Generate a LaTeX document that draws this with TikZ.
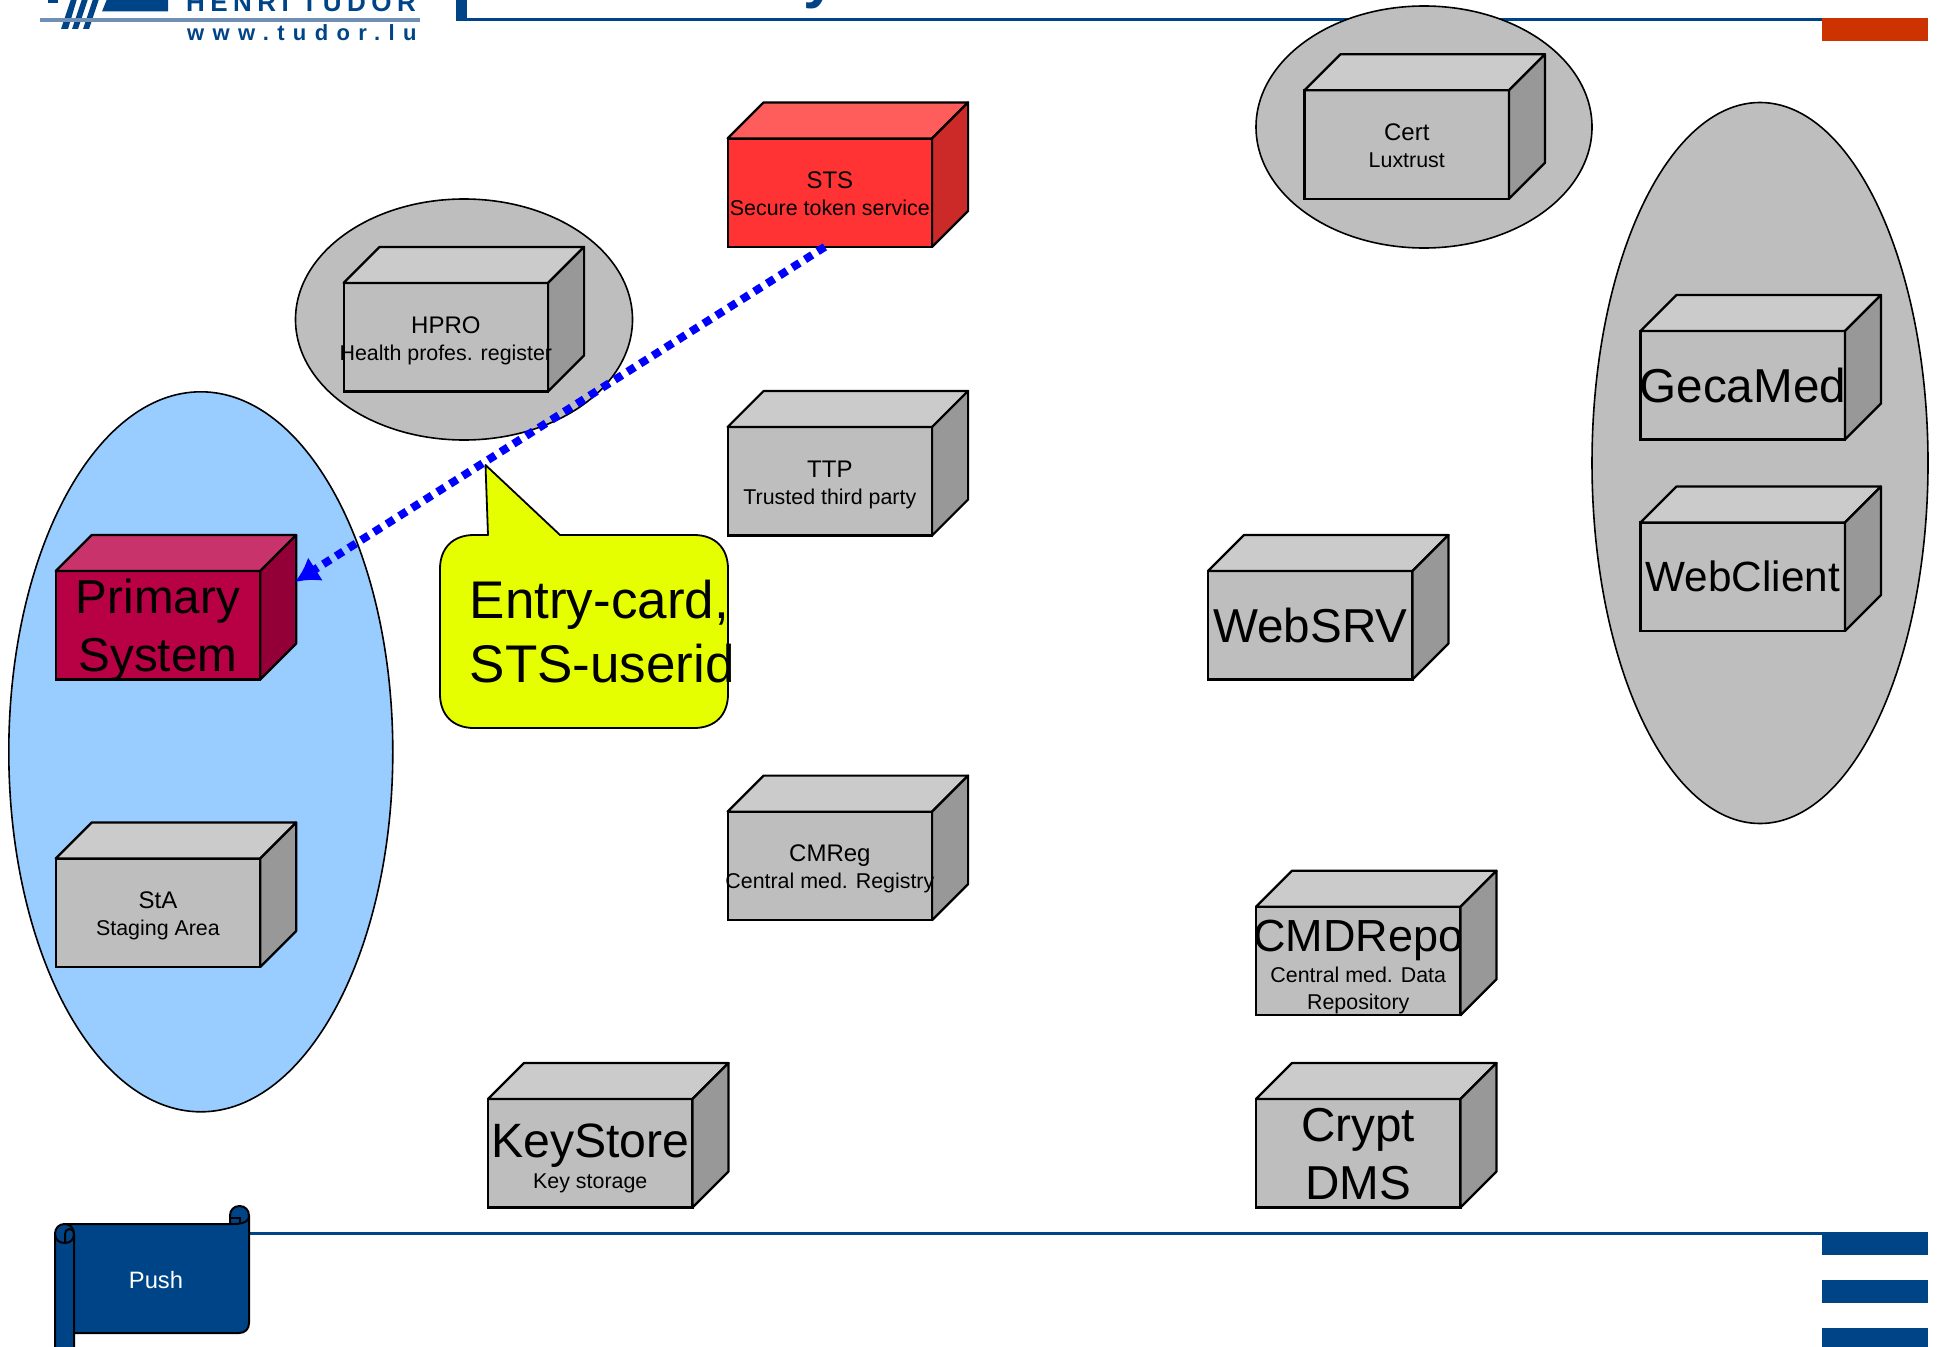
\documentclass[tikz,border=0pt]{standalone}
\usepackage{fontspec}
\setmainfont{Liberation Sans}
\usetikzlibrary{shapes.geometric,arrows.meta,calc}
\definecolor{tudorblue}{HTML}{004488}
\definecolor{tudorred}{HTML}{CC3300}
\definecolor{grayfront}{HTML}{BEBEBE}
\definecolor{graytop}{HTML}{CBCBCB}
\definecolor{grayside}{HTML}{989898}
\definecolor{redfront}{HTML}{FF3333}
\definecolor{redtop}{HTML}{FF5C5C}
\definecolor{redside}{HTML}{CC2929}
\definecolor{primfront}{HTML}{B80045}
\definecolor{primtop}{HTML}{C8336B}
\definecolor{primside}{HTML}{930037}
\definecolor{skyfill}{HTML}{99CCFF}
\definecolor{lemon}{HTML}{E6FF00}
\definecolor{logoline}{HTML}{6F8FB5}
\newcommand{\fs}[1]{\fontsize{#1}{#1}\selectfont}
% one text row: font size, strut height, strut depth, text
\newcommand{\rowtext}[4]{\fontsize{#1}{#1}\selectfont\rule[-#3pt]{0pt}{\dimexpr #2pt+#3pt\relax}#4}
\newcommand{\rowmid}[1]{\rowtext{24}{26}{7}{#1}}
\newcommand{\rowsmall}[1]{\rowtext{21.4}{19}{7}{#1}}
\newcommand{\rowsmallb}[1]{\rowtext{21.4}{19}{8}{#1}}
\newcommand{\rowbig}[1]{\rowtext{47.6}{46}{11}{#1}}
% name, left x, top y, colour prefix, text
\newcommand{\cubebox}[5]{%
  \node[cubeface,fill=#4front,anchor=north west] (#1) at (#2,#3) {};
  \draw[cubeedge,fill=#4top] (#1.north west) -- ++(36,-36) -- ++(204.5,0) -- ++(-36,36) -- cycle;
  \draw[cubeedge,fill=#4side] (#1.north east) -- ++(36,-36) -- ++(0,108.5) -- ++(-36,36) -- cycle;
  \node[cubetext] (#1text) at (#1.center) {#5};
}
\tikzset{
  x=1pt,y=-1pt,
  cubeface/.style={draw=black,line width=2.2pt,minimum width=204.5pt,minimum height=108.5pt,inner sep=0pt,outer sep=0pt,rectangle},
  cubeedge/.style={draw=black,line width=2.2pt,line join=round},
  cubetext/.style={align=center,inner sep=0pt,text=black},
  halo/.style={ellipse,draw=black,line width=1.6pt,fill=#1,inner sep=0pt,outer sep=0pt},
  halo/.default=grayfront,
  bandblue/.style={fill=tudorblue,draw=none},
  scrolledge/.style={draw=black,line width=2pt,fill=tudorblue,line join=round},
  linkdots/.style={draw=blue,line width=8pt,dash pattern=on 8.5pt off 6.5pt,-{Latex[length=24pt,width=28pt]}},
}
\begin{document}
\begin{tikzpicture}
\useasboundingbox (0,0) rectangle (1937,1346);
\clip (0,0) rectangle (1937,1346);
\fill[white] (0,0) rectangle (1937,1346);

% logo
\fill[tudorblue] (48,-1) rectangle (58,3);
\fill[tudorblue] (71,-1) -- (77,-1) -- (68,29) -- (61,29) -- cycle;
\fill[tudorblue] (82,-1) -- (88,-1) -- (78,29) -- (72,29) -- cycle;
\fill[tudorblue] (93,-1) -- (99,-1) -- (89,29) -- (83,29) -- cycle;
\fill[tudorblue] (107,-1) -- (168,-1) -- (168,11.5) -- (102,11.5) -- cycle;
\fill[logoline] (40,18.5) rectangle (420,22);
\node[anchor=base west,inner sep=0pt,text=tudorblue] (logoname) at (186,12)
  {\fs{26}\addfontfeature{LetterSpace=21}\bfseries HENRI TUDOR};
\node[anchor=base west,inner sep=0pt,text=tudorblue] (logoweb) at (187,41)
  {\fs{22}\addfontfeature{LetterSpace=38}\bfseries www.tudor.lu};

% header
\fill[bandblue] (456,-1) rectangle (467,21);
\fill[bandblue] (456,18) rectangle (1822,21);
\fill[tudorred] (1822,18) rectangle (1928,41);
\node[anchor=base,inner sep=0pt,text=tudorblue] (title) at (820,-3) {\fs{60}\bfseries y};

% footer
\fill[bandblue] (249,1232) rectangle (1822,1235);
\fill[bandblue] (1822,1232) rectangle (1928,1255);
\fill[bandblue] (1822,1280) rectangle (1928,1303);
\fill[bandblue] (1822,1328) rectangle (1928,1347);

% ellipses
\node[halo=skyfill,minimum width=384pt,minimum height=720pt] (primaryzone) at (200.8,751.8) {};
\node[halo,minimum width=337pt,minimum height=241pt] (hprozone) at (464,319.5) {};
\node[halo,minimum width=336pt,minimum height=242pt] (certzone) at (1424,127) {};
\node[halo,minimum width=336pt,minimum height=721pt] (clientzone) at (1760,463) {};

% boxes
\cubebox{sts}{727.6}{138.4}{red}{\rowmid{STS}\\\rowsmall{Secure token service}}
\cubebox{hpro}{343.6}{282.9}{gray}{\rowmid{HPRO}\\\rowsmall{Health profes. register}}
\cubebox{cert}{1304.5}{90.2}{gray}{\rowmid{Cert}\\\rowsmall{Luxtrust}}
\cubebox{ttp}{727.6}{427}{gray}{\rowmid{TTP}\\\rowsmall{Trusted third party}}
\cubebox{primary}{55.7}{571}{prim}{\rowbig{Primary}\\\rowbig{System}}
\cubebox{sta}{55.7}{858.5}{gray}{\rowmid{StA}\\\rowsmall{Staging Area}}
\cubebox{cmreg}{727.6}{811.6}{gray}{\rowmid{CMReg}\\\rowsmall{Central med. Registry}}
\cubebox{keystore}{488}{1099}{gray}{\rowtext{48.2}{48}{11}{KeyStore}\\\rowsmallb{Key storage}}
\cubebox{websrv}{1208}{571}{gray}{\fs{47.6}WebSRV}
\cubebox{cmdrepo}{1256}{906.7}{gray}{\rowtext{45}{47}{11}{CMDRepo}\\\rowsmall{Central med. Data}\\\rowsmall{Repository}}
\cubebox{crypt}{1256}{1099}{gray}{\rowbig{Crypt}\\\rowbig{DMS}}
\cubebox{gecamed}{1640.5}{331}{gray}{\fs{47.6}GecaMed}
\cubebox{webclient}{1640.5}{522.5}{gray}{\fs{42.3}WebClient}

% callout
\draw[black,line width=1.8pt,fill=lemon,line join=round]
  (488,535) -- (485.5,465) -- (560,535) -- (694,535)
  .. controls (715,535) and (728,548) .. (728,569)
  -- (728,694)
  .. controls (728,715) and (715,728) .. (694,728)
  -- (474,728)
  .. controls (453,728) and (440,715) .. (440,694)
  -- (440,569)
  .. controls (440,548) and (453,535) .. (474,535)
  -- cycle;
\node[anchor=west,align=left,inner sep=0pt] (entrycard) at (469.5,635.5)
  {\rowtext{53}{46}{17}{Entry-card,}\\\rowtext{53}{46}{17}{STS-userid}};

% connector
\coordinate (primaryport) at (295,582);
\coordinate (ststail) at ($(sts.south)+(-5,0)$);
\draw[linkdots] (ststail) -- (primaryport);

% scroll
\draw[scrolledge] (64,1224) -- (230,1224) -- (230,1215.5)
  .. controls (230,1210) and (234,1206) .. (239.5,1206)
  .. controls (245,1206) and (249,1210) .. (249,1215.5)
  -- (249,1323) .. controls (249,1329) and (245,1333) .. (239,1333)
  -- (70,1333) -- (70,1224) -- cycle;
\draw[scrolledge] (64.5,1224)
  .. controls (59,1224) and (55,1228) .. (55,1234)
  -- (55,1360) -- (74,1360) -- (74,1234)
  .. controls (74,1228) and (70,1224) .. (64.5,1224) -- cycle;
\draw[black,line width=2pt] (55,1234) .. controls (55,1240) and (60,1243) .. (64.5,1243)
  .. controls (70,1243) and (74,1240) .. (74,1234)
  .. controls (74,1230) and (71,1229) .. (69,1229)
  .. controls (66,1229) and (65,1232) .. (65,1235) -- (65,1243);
\draw[black,line width=2pt] (230,1224) .. controls (238,1224) and (249,1224) .. (249,1215.5);
\draw[black,line width=2pt] (230,1218) -- (240,1218) -- (240,1224);
\node[text=white,inner sep=0pt] (push) at (156,1280) {\fs{23.7}Push};
\end{tikzpicture}
\end{document}
